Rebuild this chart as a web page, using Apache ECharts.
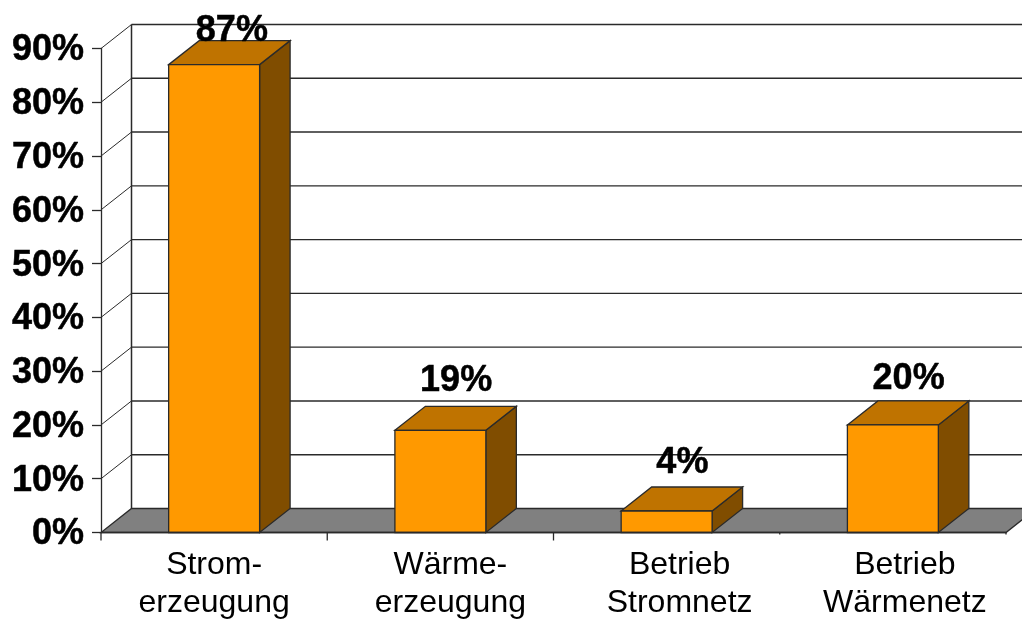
<!DOCTYPE html>
<html>
<head>
<meta charset="utf-8">
<title>Chart</title>
<style>
  html, body { margin: 0; padding: 0; background: #fff; overflow: hidden; }
  #chart { width: 1022px; height: 619px; }
</style>
</head>
<body>
<div id="chart"></div>
<script src="https://cdn.jsdelivr.net/npm/echarts@6/dist/echarts.min.js"></script>
<script>
const categories = ['Strom-\nerzeugung', 'Wärme-\nerzeugung', 'Betrieb\nStromnetz', 'Betrieb\nWärmenetz'];
const shares = [87, 19, 4, 20];
const yTicks = [0, 10, 20, 30, 40, 50, 60, 70, 80, 90];

// depth of the fake 3d box, px
const DX = 30.5;
const DY = 24;
const LINE = '#2a2a2a';
const FONT = '"Liberation Sans", Arial, sans-serif';
// the original labels sit a bit right of their bands
const LABEL_PAD_LEFT = [0, 20, 26, 24];
// value labels are not placed evenly either: [x, y] nudges
const VALUE_NUDGE = [[2, -1], [0, -3], [0, -2], [0, 0]];
// last two ticks are nearly lost in the original
const X_TICK_LENGTHS = [8, 8, 8, 2, 2];

const chart = echarts.init(document.getElementById('chart'));

function poly(points, fill) {
  return {
    type: 'polygon',
    shape: { points },
    style: { fill, stroke: LINE, lineWidth: 1.3 },
  };
}

function segment(x1, y1, x2, y2, width) {
  return {
    type: 'line',
    shape: { x1, y1, x2, y2 },
    style: { stroke: LINE, lineWidth: width, fill: null },
  };
}

// back wall: one gridline + one diagonal per tick, floor at the 0 tick
function renderWall(params, api) {
  const tick = api.value(0);
  const p = api.coord([0, tick]);
  const cs = params.coordSys;
  const y = p[1];
  const left = cs.x;
  const right = cs.x + cs.width;
  const children = [];
  if (tick === 0) {
    children.push(poly([[left, y], [right, y], [right + DX, y - DY], [left + DX, y - DY]], '#808080'));
    const top = api.coord([0, yTicks[yTicks.length - 1]])[1];
    children.push(segment(left + DX, y - DY, left + DX, top - DY, 1.5));
    X_TICK_LENGTHS.forEach((len, i) => {
      const x = left + i * cs.width / categories.length;
      children.push(segment(x, y, x, y + len, 1.3));
    });
  } else {
    children.push(segment(left + DX, y - DY, right + DX, y - DY, 1.4));
    children.push(segment(left, y, left + DX, y - DY, 1));
  }
  return { type: 'group', children };
}

function renderBar(params, api) {
  const idx = api.value(0);
  const val = api.value(1);
  const top = api.coord([idx, val]);
  const base = api.coord([idx, 0]);
  const w = api.size([1, 0])[0] * 0.402;
  const x0 = top[0] - w / 2;
  const x1 = top[0] + w / 2;
  const yt = top[1];
  const yb = base[1];
  const nudge = VALUE_NUDGE[idx];
  return {
    type: 'group',
    children: [
      poly([[x1, yt], [x1 + DX, yt - DY], [x1 + DX, yb - DY], [x1, yb]], '#804D00'),
      poly([[x0, yt], [x0 + DX, yt - DY], [x1 + DX, yt - DY], [x1, yt]], '#BF7300'),
      poly([[x0, yt], [x1, yt], [x1, yb], [x0, yb]], '#FF9900'),
      {
        type: 'text',
        z2: 10,
        style: {
          x: top[0] + DX / 2 + 0.5 + nudge[0],
          y: Math.max(yt - DY - 4, 50) + nudge[1],
          text: val + '%',
          fill: '#000',
          stroke: '#000',
          lineWidth: 0.5,
          font: 'bold 36px ' + FONT,
          align: 'center',
          verticalAlign: 'bottom',
        },
      },
    ],
  };
}

chart.setOption({
  animation: false,
  backgroundColor: '#fff',
  grid: { left: 101, top: 48.5, width: 905, height: 484, outerBoundsMode: 'none' },
  xAxis: {
    type: 'category',
    data: categories.map((name, i) => ({
      value: name,
      textStyle: { padding: [0, 0, 0, LABEL_PAD_LEFT[i]] },
    })),
    z: 6,
    axisLine: { lineStyle: { color: LINE, width: 1.3 } },
    axisTick: { show: false },
    axisLabel: {
      interval: 0,
      margin: 14,
      color: '#000',
      fontFamily: FONT,
      fontSize: 32,
      lineHeight: 38,
    },
  },
  yAxis: {
    type: 'value',
    min: 0,
    max: 90,
    interval: 10,
    z: 6,
    splitLine: { show: false },
    axisLine: { show: true, lineStyle: { color: LINE, width: 1.3 } },
    axisTick: { show: true, length: 9, lineStyle: { color: LINE, width: 1.3 } },
    axisLabel: {
      margin: 17,
      formatter: (v) => '{pct|' + v + '%}',
      rich: {
        pct: {
          padding: [4, 0, 0, 0],
          color: '#000',
          fontFamily: FONT,
          fontSize: 36,
          fontWeight: 'bold',
          textBorderColor: '#000',
          textBorderWidth: 0.5,
        },
      },
    },
  },
  series: [
    {
      type: 'custom',
      clip: false,
      silent: true,
      z: 1,
      renderItem: renderWall,
      encode: { y: 0 },
      data: yTicks.map((t) => [t]),
    },
    {
      type: 'custom',
      clip: false,
      z: 3,
      renderItem: renderBar,
      encode: { x: 0, y: 1 },
      data: shares.map((v, i) => [i, v]),
    },
  ],
});
</script>
</body>
</html>
